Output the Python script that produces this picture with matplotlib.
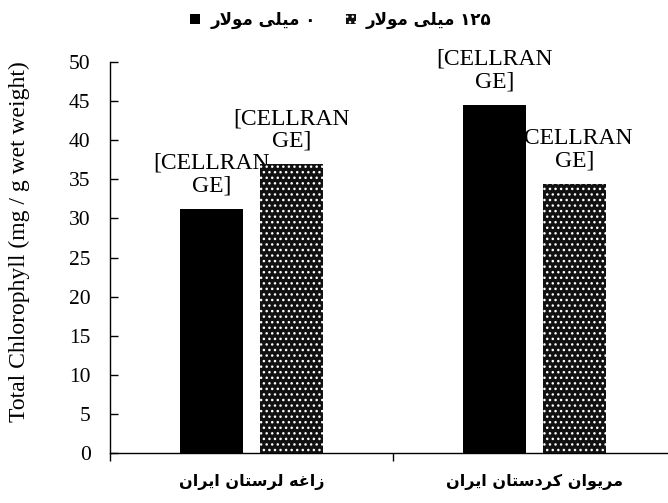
import re
import numpy as np
import matplotlib
matplotlib.use("Agg")
import matplotlib.pyplot as plt
from matplotlib.patches import Patch

# data
categories = ["زاغه لرستان ایران", "مریوان کردستان ایران"]
series_names = ["۰ میلی مولار", "۱۲۵ میلی مولار"]
vals_0mm = [31.2, 44.5]
vals_125mm = [36.9, 34.4]
bar_labels = ["[CELLRAN\nGE]"] * 2
y_ticks = list(range(0, 51, 5))
y_label = "Total Chlorophyll (mg / g wet weight)"

# minimal arabic/persian shaping (matplotlib does not shape or do RTL)
# forms: isolated, final, initial, medial
FORMS = {
    "ا": ("\uFE8D", "\uFE8E", None, None),
    "د": ("\uFEA9", "\uFEAA", None, None),
    "ر": ("\uFEAD", "\uFEAE", None, None),
    "ز": ("\uFEAF", "\uFEB0", None, None),
    "و": ("\uFEED", "\uFEEE", None, None),
    "م": ("\uFEE1", "\uFEE2", "\uFEE3", "\uFEE4"),
    "ل": ("\uFEDD", "\uFEDE", "\uFEDF", "\uFEE0"),
    "غ": ("\uFECD", "\uFECE", "\uFECF", "\uFED0"),
    "ه": ("\uFEE9", "\uFEEA", "\uFEEB", "\uFEEC"),
    "س": ("\uFEB1", "\uFEB2", "\uFEB3", "\uFEB4"),
    "ت": ("\uFE95", "\uFE96", "\uFE97", "\uFE98"),
    "ن": ("\uFEE5", "\uFEE6", "\uFEE7", "\uFEE8"),
    "ی": ("\uFBFC", "\uFBFD", "\uFBFE", "\uFBFF"),
    "ک": ("\uFB8E", "\uFB8F", "\uFB90", "\uFB91"),
}


def dual(c):
    return c in FORMS and FORMS[c][2] is not None


def fa(text):
    out = []
    i = 0
    while i < len(text):
        c = text[i]
        if c not in FORMS:
            out.append(c)
            i += 1
            continue
        prev = text[i - 1] if i > 0 else ""
        nxt = text[i + 1] if i + 1 < len(text) else ""
        jp = dual(prev)
        if c == "ل" and nxt == "ا":
            out.append("\uFEFC" if jp else "\uFEFB")
            i += 2
            continue
        jn = dual(c) and nxt in FORMS
        iso, fin, ini, med = FORMS[c]
        if jp and jn:
            out.append(med)
        elif jp:
            out.append(fin)
        elif jn:
            out.append(ini)
        else:
            out.append(iso)
        i += 1
    vis = "".join(out)[::-1]
    return re.sub("[۰-۹]+", lambda m: m.group(0)[::-1], vis)


fig = plt.figure(figsize=(6.68, 5.03), dpi=100)
ax = fig.add_axes([0.1647, 0.0994, 0.8473, 0.7773])

x = np.arange(len(categories))
w = 0.222
off = 0.142
hatch_kw = dict(facecolor="#111111", edgecolor="white", hatch="...", linewidth=0)
b1 = ax.bar(x - off, vals_0mm, w, color="black", zorder=3)
b2 = ax.bar(x + off, vals_125mm, w, zorder=3, **hatch_kw)

serif = "Liberation Serif"
for bars in (b1, b2):
    for rect, lab in zip(bars, bar_labels):
        ax.annotate(lab, (rect.get_x() + rect.get_width() / 2, rect.get_height()),
                    xytext=(0, 9), textcoords="offset points", ha="center", va="bottom",
                    fontsize=17, family=serif, linespacing=1.1, zorder=1,
                    annotation_clip=False)

ax.set_xlim(-0.5, 1.5)
ax.set_ylim(0, 50)
ax.set_yticks(y_ticks)
ax.set_xticks([-0.5, 0.5, 1.5])
ax.set_xticklabels([])
ax.set_xticks(x, minor=True)
ax.set_xticklabels([fa(c) for c in categories], minor=True,
                   family="DejaVu Sans", fontweight="bold", fontsize=11.5)
ax.tick_params(axis="x", which="major", direction="out", length=6, width=1)
ax.tick_params(axis="x", which="minor", length=0, pad=15)
ax.tick_params(axis="y", direction="in", length=6, width=1, pad=14, labelsize=15.5)
for t in ax.get_yticklabels():
    t.set_family(serif)

for s in ("top", "right"):
    ax.spines[s].set_visible(False)
ax.spines["left"].set_linewidth(1)
ax.spines["bottom"].set_linewidth(1)

ax.set_ylabel(y_label, family=serif, fontsize=17)
ax.yaxis.set_label_coords(-0.142, 0.54)

handles = [Patch(facecolor="black", edgecolor="black", linewidth=0),
           Patch(**hatch_kw)]
fig.legend(handles, [fa(s) for s in series_names], loc="upper center",
           bbox_to_anchor=(0.51, 1.008), ncol=2, frameon=False,
           handlelength=0.6, handleheight=0.6, handletextpad=0.6, columnspacing=1.8,
           prop={"family": "DejaVu Sans", "weight": "bold", "size": 12})

fig.savefig("out.png", dpi=100)
